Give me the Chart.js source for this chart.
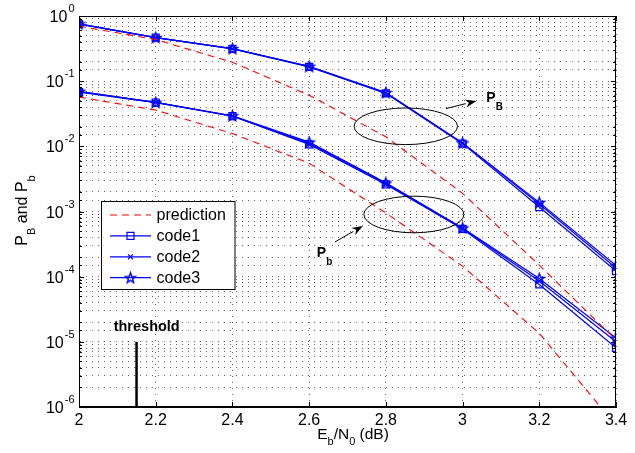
<!DOCTYPE html>
<html>
<head>
<meta charset="utf-8">
<script src="https://cdn.jsdelivr.net/npm/chart.js@4.4.1/dist/chart.umd.min.js"></script>
<style>
  html, body { margin: 0; padding: 0; background: #fff; }
  canvas { display: block; }
</style>
</head>
<body>
<canvas id="ber-chart" width="635" height="453"></canvas>
<script>
const ebn0 = [2, 2.2, 2.4, 2.6, 2.8, 3, 3.2, 3.4];

// block error rate P_B
const predictionPB = [0.70, 0.435, 0.195, 0.061, 0.014, 1.9e-3, 1.5e-4, 1.07e-5];
const code1PB = [0.75, 0.465, 0.313, 0.166, 0.065, 0.0110, 1.17e-3, 1.22e-4];
const code2PB = [0.76, 0.467, 0.316, 0.168, 0.066, 0.0112, 1.30e-3, 1.36e-4];
const code3PB = [0.76, 0.467, 0.316, 0.169, 0.067, 0.0113, 1.38e-3, 1.48e-4];

// bit error rate P_b
const predictionPb = [0.057, 0.036, 0.0157, 5.5e-3, 9.5e-4, 1.45e-4, 1.35e-5, 5.2e-7];
const code1Pb = [0.068, 0.047, 0.029, 0.0107, 2.6e-3, 5.4e-4, 7.6e-5, 8.1e-6];
const code2Pb = [0.069, 0.0472, 0.0292, 0.0112, 2.68e-3, 5.5e-4, 8.6e-5, 1.0e-5];
const code3Pb = [0.070, 0.0474, 0.0295, 0.0116, 2.75e-3, 5.6e-4, 9.4e-5, 1.14e-5];

const seriesNames = ['prediction', 'code1', 'code2', 'code3'];

const thresholdEbN0 = 2.15;
const thresholdSpan = [1e-6, 1e-5];

// annotation anchors, in data units
const ellipseCenters = [[2.852, 0.0203], [2.873, 9.0e-4]];
const arrowSegments = [
  [[2.956, 0.0379], [3.036, 0.0496]],
  [[2.667, 3.4e-4], [2.740, 6.0e-4]]
];
const curveTags = [[3.062, 0.0479, 'B'], [2.620, 2.0e-4, 'b']];
const thresholdTag = [2.1765, 1.47e-5];

const FONT = '"Liberation Sans", Arial, Helvetica, sans-serif';
const BLUE = '#0000ff';
const RED = '#ff0000';

Chart.defaults.font.family = FONT;
Chart.defaults.color = '#000';

// MATLAB-like pentagram marker
function makeStar(color) {
  const c = document.createElement('canvas');
  c.width = c.height = 13;
  const g = c.getContext('2d');
  g.strokeStyle = color;
  g.lineWidth = 1.4;
  g.beginPath();
  for (let i = 0; i < 10; i++) {
    const r = i % 2 ? 2.2 : 5.4;
    const a = -Math.PI / 2 + i * Math.PI / 5;
    const px = 6.5 + r * Math.cos(a), py = 7 + r * Math.sin(a);
    if (i) g.lineTo(px, py); else g.moveTo(px, py);
  }
  g.closePath();
  g.stroke();
  return c;
}
const starMarker = makeStar(BLUE);

const toPoints = ys => ys.map((y, i) => ({ x: ebn0[i], y }));
// P_B and P_b curves share one dataset, split by a gap
const bothCurves = (pB, pb) => [...toPoints(pB), { x: ebn0[ebn0.length - 1], y: null }, ...toPoints(pb)];

const codeStyle = (style, radius) => ({
  borderColor: BLUE,
  borderWidth: 1.2,
  pointStyle: style,
  pointRadius: radius,
  pointBorderColor: BLUE,
  pointBackgroundColor: 'rgba(0,0,0,0)',
  pointBorderWidth: 1.2
});

const datasets = [
  { label: seriesNames[0], data: bothCurves(predictionPB, predictionPb),
    borderColor: RED, borderWidth: 1.1, borderDash: [7, 5], pointRadius: 0, legend: true },
  { label: seriesNames[1], data: bothCurves(code1PB, code1Pb), ...codeStyle('rect', 5), legend: true },
  { label: seriesNames[2], data: bothCurves(code2PB, code2Pb), ...codeStyle('crossRot', 3.5), legend: true },
  { label: seriesNames[3], data: bothCurves(code3PB, code3Pb), ...codeStyle(starMarker, 6), legend: true },
  { label: 'threshold', data: thresholdSpan.map(y => ({ x: thresholdEbN0, y })),
    borderColor: '#000', borderWidth: 2.5, pointRadius: 0 }
];

// text with subscripts: parts = [[text, isSub], ...]
function richText(ctx, parts, x, y, size, subSize, drop, weight, align) {
  const main = `${weight} ${size}px ${FONT}`;
  const sub = `${weight} ${subSize}px ${FONT}`;
  const widths = parts.map(([t, s]) => { ctx.font = s ? sub : main; return ctx.measureText(t).width; });
  const total = widths.reduce((a, b) => a + b, 0);
  let cx = align === 'center' ? x - total / 2 : x;
  ctx.textAlign = 'left';
  ctx.textBaseline = 'alphabetic';
  parts.forEach(([t, s], i) => {
    ctx.font = s ? sub : main;
    ctx.fillText(t, cx, s ? y + drop : y);
    cx += widths[i];
  });
}

function drawMarker(ctx, style, x, y, r) {
  if (!style) return;
  if (style instanceof HTMLCanvasElement) {
    ctx.drawImage(style, x - style.width / 2, y - style.height / 2);
    return;
  }
  const h = r * Math.SQRT1_2;
  ctx.beginPath();
  if (style === 'rect') {
    ctx.rect(x - h, y - h, 2 * h, 2 * h);
  } else if (style === 'crossRot') {
    ctx.moveTo(x - h, y - h); ctx.lineTo(x + h, y + h);
    ctx.moveTo(x + h, y - h); ctx.lineTo(x - h, y + h);
  }
  ctx.stroke();
}

function arrow(ctx, x0, y0, x1, y1) {
  const a = Math.atan2(y1 - y0, x1 - x0);
  const len = 11, half = 4;
  ctx.beginPath();
  ctx.moveTo(x0, y0);
  ctx.lineTo(x1 - len * Math.cos(a), y1 - len * Math.sin(a));
  ctx.stroke();
  ctx.beginPath();
  ctx.moveTo(x1, y1);
  ctx.lineTo(x1 - len * Math.cos(a) - half * Math.sin(a), y1 - len * Math.sin(a) + half * Math.cos(a));
  ctx.lineTo(x1 - len * 0.7 * Math.cos(a), y1 - len * 0.7 * Math.sin(a));
  ctx.lineTo(x1 - len * Math.cos(a) + half * Math.sin(a), y1 - len * Math.sin(a) - half * Math.cos(a));
  ctx.closePath();
  ctx.fill();
}

const isDecade = v => Math.abs(Math.log10(v) - Math.round(Math.log10(v))) < 1e-6;

const whiteBg = {
  id: 'whiteBg',
  beforeDraw(chart) {
    const { ctx, width, height } = chart;
    ctx.save();
    ctx.fillStyle = '#fff';
    ctx.fillRect(0, 0, width, height);
    ctx.restore();
  }
};

const decor = {
  id: 'decor',
  afterDatasetsDraw(chart) {
    const { ctx, chartArea: { left, right, top, bottom } } = chart;
    const xs = chart.scales.x, ys = chart.scales.y;
    const px = v => xs.getPixelForValue(v);
    const py = v => ys.getPixelForValue(v);
    ctx.save();
    ctx.strokeStyle = '#000';
    ctx.fillStyle = '#000';
    ctx.lineWidth = 1;

    // axes box and inward ticks
    ctx.strokeRect(left + 0.5, top + 0.5, right - left - 1, bottom - top - 1);
    ctx.beginPath();
    xs.ticks.forEach(t => {
      const x = Math.round(px(t.value)) + 0.5;
      ctx.moveTo(x, bottom); ctx.lineTo(x, bottom - 5);
      ctx.moveTo(x, top); ctx.lineTo(x, top + 5);
    });
    ys.ticks.forEach(t => {
      const y = Math.round(py(t.value)) + 0.5;
      const len = isDecade(t.value) ? 5 : 3;
      ctx.moveTo(left, y); ctx.lineTo(left + len, y);
      ctx.moveTo(right, y); ctx.lineTo(right - len, y);
    });
    ctx.stroke();

    // decade labels 10^n
    ys.ticks.filter(t => isDecade(t.value)).forEach(t => {
      const y = py(t.value);
      const exp = String(Math.round(Math.log10(t.value)));
      ctx.font = `11px ${FONT}`;
      const ew = ctx.measureText(exp).width;
      const right10 = 74.5 - ew - 1;
      ctx.font = `16px ${FONT}`;
      ctx.textAlign = 'right';
      ctx.textBaseline = 'alphabetic';
      ctx.fillText('10', right10, y + 6);
      ctx.font = `11px ${FONT}`;
      ctx.textAlign = 'left';
      ctx.fillText(exp, right10 + 1, y - 4);
    });

    // axis titles
    richText(ctx, [['E', false], ['b', true], ['/N', false], ['0', true], [' (dB)', false]],
      353, 439, 15.5, 11, 5.5, '', 'center');
    ctx.save();
    ctx.translate(26.5, 210.5);
    ctx.rotate(-Math.PI / 2);
    richText(ctx, [['P', false], ['B', true], [' and P', false], ['b', true]],
      0, 0, 16, 11, 8, '', 'center');
    ctx.restore();

    // ellipses, arrows and curve tags
    const radii = [[51.7, 18.3], [50, 18.3]];
    ellipseCenters.forEach(([ex, ey], i) => {
      ctx.beginPath();
      ctx.ellipse(px(ex), py(ey), radii[i][0], radii[i][1], 0, 0, 2 * Math.PI);
      ctx.stroke();
    });
    arrowSegments.forEach(([[ax, ay], [bx, by]]) => arrow(ctx, px(ax), py(ay), px(bx), py(by)));
    curveTags.forEach(([tx, ty, s]) => {
      richText(ctx, [['P', false], [s, true]], px(tx), py(ty), 14, 10, 8, 'bold', 'left');
    });

    ctx.font = `bold 14.5px ${FONT}`;
    ctx.textAlign = 'center';
    ctx.textBaseline = 'alphabetic';
    ctx.fillText('threshold', px(thresholdTag[0]), py(thresholdTag[1]));

    // legend box
    const box = { x: 101.5, y: 201.5, w: 133.5, h: 88 };
    ctx.fillStyle = '#fff';
    ctx.fillRect(box.x, box.y, box.w, box.h);
    ctx.strokeStyle = '#000';
    ctx.lineWidth = 1;
    ctx.strokeRect(box.x, box.y, box.w, box.h);
    const entries = chart.data.datasets.filter(d => d.legend);
    entries.forEach((d, i) => {
      const y = 215 + i * 20.9;
      ctx.strokeStyle = d.borderColor;
      ctx.lineWidth = d.borderWidth;
      ctx.setLineDash(d.borderDash || []);
      ctx.beginPath();
      ctx.moveTo(110, y); ctx.lineTo(151, y);
      ctx.stroke();
      ctx.setLineDash([]);
      if (d.pointRadius) drawMarker(ctx, d.pointStyle, 130.5, y, d.pointRadius);
      ctx.fillStyle = '#000';
      ctx.font = `16px ${FONT}`;
      ctx.textAlign = 'left';
      ctx.textBaseline = 'middle';
      ctx.fillText(d.label, 156.5, y + 1);
    });
    ctx.restore();
  }
};

const gridLines = {
  grid: { color: 'rgba(0,0,0,0.6)', lineWidth: 1, drawTicks: false },
  border: { display: true, color: '#000', width: 1, dash: [1, 5] }
};

new Chart(document.getElementById('ber-chart'), {
  type: 'line',
  data: { datasets },
  options: {
    responsive: false,
    animation: false,
    devicePixelRatio: 1,
    events: [],
    layout: { padding: { top: 16, right: 19, left: 0, bottom: 0 } },
    plugins: { legend: { display: false }, tooltip: { enabled: false } },
    scales: {
      x: {
        type: 'linear',
        min: 2,
        max: 3.4,
        ticks: {
          stepSize: 0.2,
          maxRotation: 0,
          padding: 4,
          color: '#000',
          font: { size: 16 },
          callback: v => String(Math.round(v * 10) / 10)
        },
        ...gridLines,
        afterFit: s => { s.height = 46; }
      },
      y: {
        type: 'logarithmic',
        min: 1e-6,
        max: 1,
        ticks: { display: false, callback: () => '' },
        ...gridLines,
        afterFit: s => { s.width = 79; }
      }
    }
  },
  plugins: [whiteBg, decor]
});
</script>
</body>
</html>
